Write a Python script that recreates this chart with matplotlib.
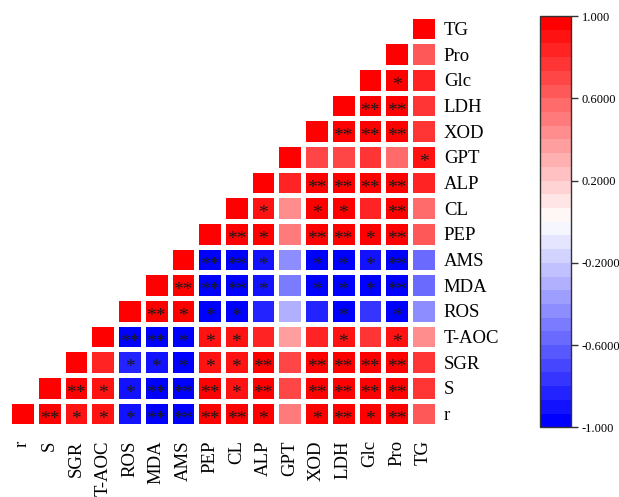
"""Correlation heatmap (lower triangle) with significance marks."""

import numpy as np
import matplotlib
matplotlib.use('Agg')
import matplotlib.pyplot as plt

plt.rcParams['font.family'] = ['Liberation Serif', 'DejaVu Serif']

labels = ['r', 'S', 'SGR', 'T-AOC', 'ROS', 'MDA', 'AMS', 'PEP', 'CL', 'ALP',
          'GPT', 'XOD', 'LDH', 'Glc', 'Pro', 'TG']

# Correlations of each variable with the ones after it in `labels`
r_vals = [0.97, 0.93, 0.93, -0.93, -0.97, -0.97, 0.97, 0.97, 0.94, 0.48, 0.94, 0.97, 0.94, 0.97, 0.64]
S_vals = [0.97, 0.90, -0.89, -0.97, -0.97, 0.97, 0.91, 0.97, 0.68, 0.97, 0.97, 0.97, 0.97, 0.76]
SGR_vals = [0.84, -0.86, -0.93, -0.94, 0.93, 0.93, 0.97, 0.70, 0.97, 0.97, 0.97, 0.97, 0.77]
TAOC_vals = [-0.97, -0.97, -0.94, 0.93, 0.93, 0.83, 0.38, 0.85, 0.93, 0.78, 0.93, 0.44]
ROS_vals = [0.97, 0.94, -0.94, -0.94, -0.83, -0.33, -0.84, -0.94, -0.77, -0.94, -0.44]
MDA_vals = [0.97, -0.97, -0.97, -0.92, -0.50, -0.94, -0.94, -0.94, -0.97, -0.60]
AMS_vals = [-0.97, -0.97, -0.89, -0.45, -0.94, -0.94, -0.89, -0.97, -0.57]
PEP_vals = [0.97, 0.94, 0.52, 0.97, 0.97, 0.94, 0.97, 0.64]
CL_vals = [0.93, 0.42, 0.94, 0.94, 0.86, 0.97, 0.57]
ALP_vals = [0.80, 0.97, 0.97, 0.97, 0.97, 0.80]
GPT_vals = [0.71, 0.70, 0.79, 0.59, 0.90]
XOD_vals = [0.97, 0.97, 0.97, 0.78]
LDH_vals = [0.97, 0.97, 0.79]
Glc_vals = [0.94, 0.83]
Pro_vals = [0.66]

# Significance marks, same layout as the values
r_sig = ['**', '*', '*', '*', '**', '**', '**', '**', '*', '', '*', '**', '*', '**', '']
S_sig = ['**', '*', '*', '**', '**', '**', '*', '**', '', '**', '**', '**', '**', '']
SGR_sig = ['', '*', '*', '*', '*', '*', '**', '', '**', '**', '**', '**', '']
TAOC_sig = ['**', '**', '*', '*', '*', '', '', '', '*', '', '*', '']
ROS_sig = ['**', '*', '*', '*', '', '', '', '*', '', '*', '']
MDA_sig = ['**', '**', '**', '*', '', '*', '*', '*', '**', '']
AMS_sig = ['**', '**', '*', '', '*', '*', '*', '**', '']
PEP_sig = ['**', '*', '', '**', '**', '*', '**', '']
CL_sig = ['*', '', '*', '*', '', '**', '']
ALP_sig = ['', '**', '**', '**', '**', '']
GPT_sig = ['', '', '', '', '*']
XOD_sig = ['**', '**', '**', '']
LDH_sig = ['**', '**', '']
Glc_sig = ['*', '']
Pro_sig = ['']

all_vals = [r_vals, S_vals, SGR_vals, TAOC_vals, ROS_vals, MDA_vals, AMS_vals, PEP_vals,
            CL_vals, ALP_vals, GPT_vals, XOD_vals, LDH_vals, Glc_vals, Pro_vals, []]
all_sig = [r_sig, S_sig, SGR_sig, TAOC_sig, ROS_sig, MDA_sig, AMS_sig, PEP_sig,
           CL_sig, ALP_sig, GPT_sig, XOD_sig, LDH_sig, Glc_sig, Pro_sig, []]

n = len(labels)
mat = np.full((n, n), np.nan)
sig = [['' for _ in range(n)] for _ in range(n)]
for i in range(n):
    mat[i, i] = 1.0
    for k, v in enumerate(all_vals[i]):
        mat[i, i + 1 + k] = v
        sig[i][i + 1 + k] = all_sig[i][k]

cmap = plt.get_cmap('bwr', 30)

fig = plt.figure(figsize=(6.19, 4.97), dpi=100)
ax = fig.add_axes([0.0149, 0.1419, 0.6908, 0.8264])

masked = np.ma.masked_invalid(mat)
mesh = ax.pcolormesh(np.arange(n + 1), np.arange(n + 1), masked, cmap=cmap,
                     vmin=-1, vmax=1, edgecolors='white', linewidth=2.2)

# Significance stars
for i in range(n):
    for j in range(n):
        if sig[i][j]:
            ax.text(j + 0.5, i + 0.28, sig[i][j], ha='center', va='center',
                    fontsize=14, color='#1a1a1a')

ax.set_xlim(0, n)
ax.set_ylim(0, n)
ax.set_xticks(np.arange(n) + 0.5)
ax.set_xticklabels(labels, rotation=90, fontsize=13.5)
ax.set_yticks(np.arange(n) + 0.5)
ax.set_yticklabels(labels, fontsize=13.5)
ax.yaxis.tick_right()
ax.tick_params(axis='both', length=0)
ax.tick_params(axis='x', pad=10)
ax.tick_params(axis='y', pad=5)
for s in ax.spines.values():
    s.set_visible(False)

# Colour bar
cax = fig.add_axes([0.8724, 0.1402, 0.0496, 0.8276])
cb = fig.colorbar(mesh, cax=cax)
cb.set_ticks([1.0, 0.6, 0.2, -0.2, -0.6, -1.0])
cb.set_ticklabels(['1.000', '0.6000', '0.2000', '-0.2000', '-0.6000', '-1.000'])
cb.ax.tick_params(labelsize=9, length=5, width=1, pad=3, color='#333333')
cb.outline.set_linewidth(1)
cb.outline.set_edgecolor('#333333')

plt.savefig('out.png', dpi=100)
